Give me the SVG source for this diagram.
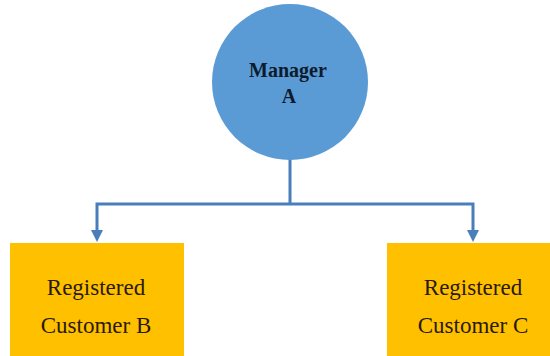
<svg xmlns="http://www.w3.org/2000/svg" width="550" height="356" viewBox="0 0 550 356">
  <defs>
    <style>
      .conn { fill: none; stroke: #4A7EBB; stroke-width: 3; }
      .box { fill: #FFC000; }
      .label { fill: #2a1a0a; text-anchor: middle; }
      .head { font-weight: bold; fill: #0d1b2e; text-anchor: middle; }
    </style>
    <marker id="arrow" viewBox="0 0 10 10" refX="5" refY="5" markerWidth="4" markerHeight="4" orient="auto" markerUnits="strokeWidth">
      <path d="M0,0 L10,5 L0,10 z" fill="#4A7EBB"/>
    </marker>
  </defs>

  <rect width="550" height="356" fill="#ffffff"/>

  <g id="connectors">
    <path class="conn" d="M290,158 V204 M290,204 H97 V236" marker-end="url(#arrow)"/>
    <path class="conn" d="M290,204 H473 V236" marker-end="url(#arrow)"/>
  </g>

  <g id="manager" font-family="'Liberation Serif', 'DejaVu Serif', serif">
    <circle cx="290" cy="82" r="78" fill="#5B9BD5"/>
    <text class="head" x="288" y="77" font-size="20">Manager</text>
    <text class="head" x="289" y="103" font-size="20">A</text>
  </g>

  <g id="customer-b" font-family="'Liberation Serif', 'DejaVu Serif', serif">
    <rect class="box" x="10" y="243" width="174" height="113"/>
    <text class="label" x="96" y="295" font-size="23">Registered</text>
    <text class="label" x="96" y="333" font-size="23">Customer B</text>
  </g>

  <g id="customer-c" font-family="'Liberation Serif', 'DejaVu Serif', serif">
    <rect class="box" x="387" y="243" width="163" height="113"/>
    <text class="label" x="473" y="295" font-size="23">Registered</text>
    <text class="label" x="473" y="333" font-size="23">Customer C</text>
  </g>
</svg>
